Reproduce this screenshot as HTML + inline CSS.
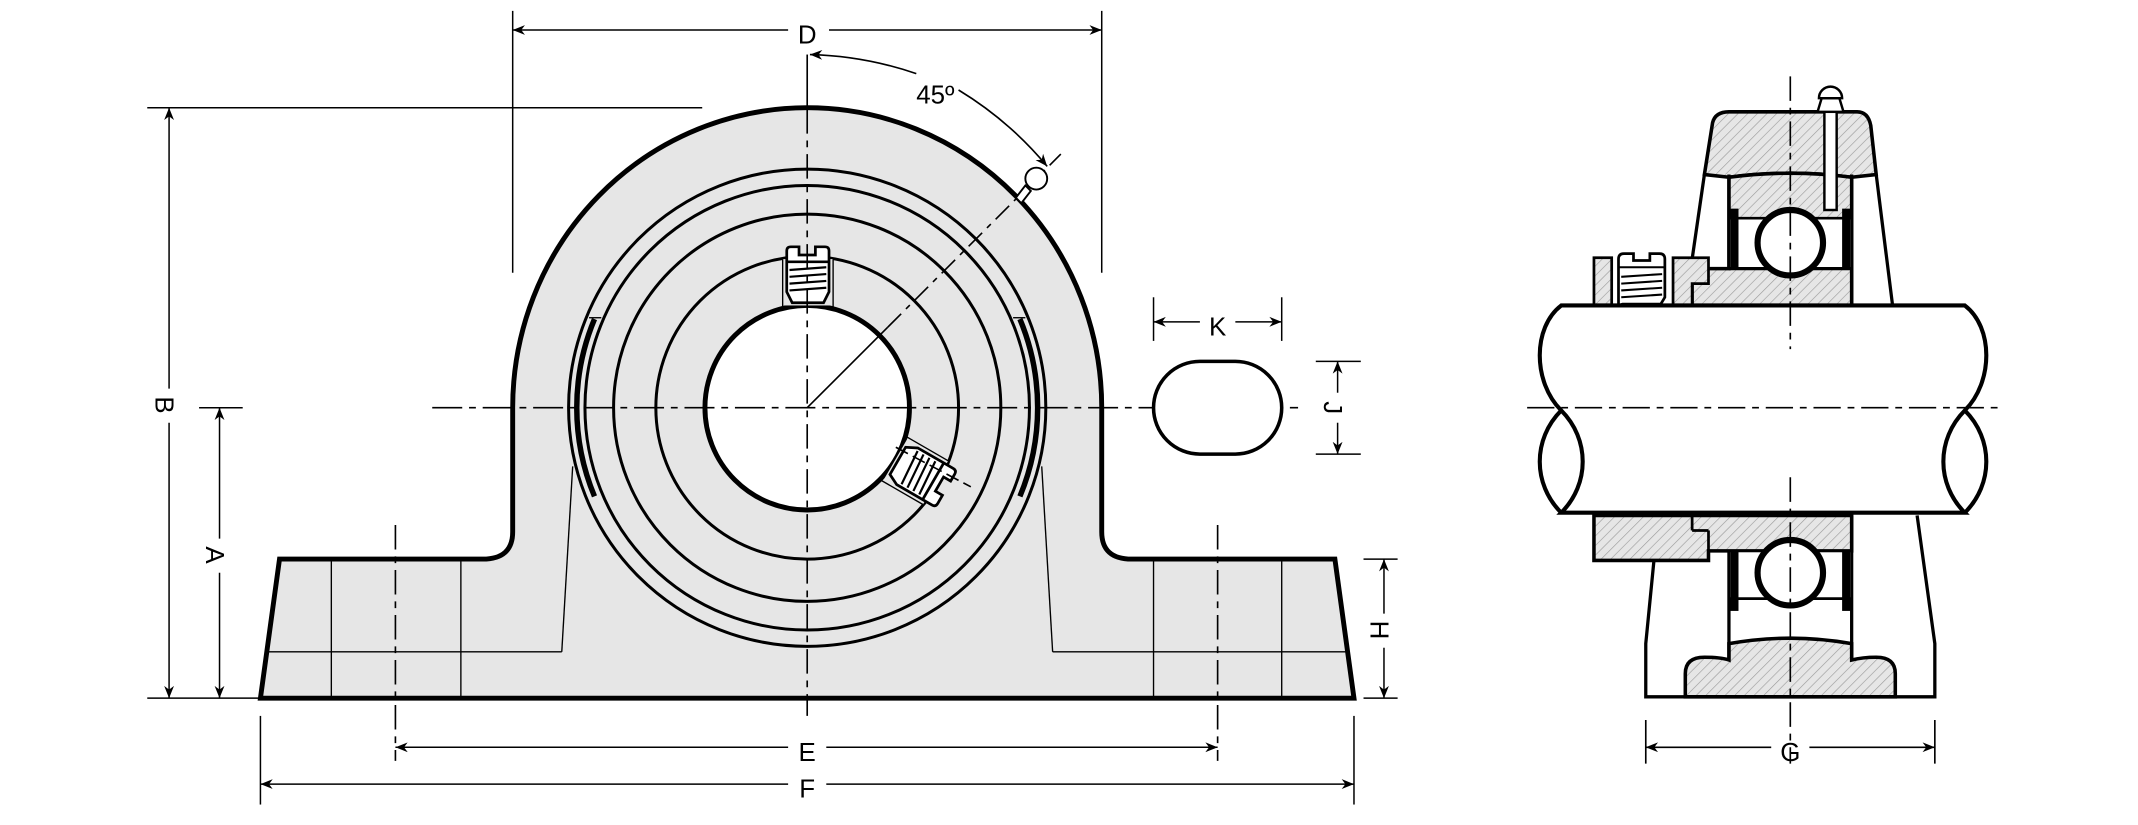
<!DOCTYPE html>
<html><head><meta charset="utf-8"><style>
html,body{margin:0;padding:0;background:#fff}
svg{display:block}
text{font-family:"Liberation Sans Narrow","Liberation Sans",sans-serif;font-size:19px;fill:#000}
</style></head><body>
<svg width="2138" height="825" viewBox="0 0 1568 605" preserveAspectRatio="none" xmlns="http://www.w3.org/2000/svg">
<defs>
<pattern id="h" patternUnits="userSpaceOnUse" width="5" height="5" patternTransform="rotate(45)">
<rect width="5" height="5" fill="#e6e6e6"/><line x1="0" y1="0" x2="0" y2="5" stroke="#9a9a9a" stroke-width="0.9"/>
</pattern>
<marker id="ar" viewBox="0 0 10 10" refX="10" refY="5" markerWidth="9" markerHeight="9" orient="auto-start-reverse" markerUnits="userSpaceOnUse"><path d="M0,1 L10,5 L0,9 L3,5 z" fill="#000"/></marker>
</defs>

<!-- ========== LEFT VIEW ========== -->
<path d="M376,384 L376,299 A216,220 0 0 1 808,299 L808,390 Q808,410 830,410 L979,410 L993,512 L191,512 L205,410 L354,410 Q376,410 376,390 Z" fill="#e6e6e6" stroke="#000" stroke-width="3.6" stroke-linejoin="miter"/>
<g stroke="#000" stroke-width="1" fill="none">
<line x1="243" y1="410" x2="243" y2="512"/><line x1="338" y1="410" x2="338" y2="512"/>
<line x1="846" y1="410" x2="846" y2="512"/><line x1="940" y1="410" x2="940" y2="512"/>
<line x1="196" y1="478" x2="412" y2="478"/><line x1="772" y1="478" x2="989" y2="478"/>
<line x1="412" y1="478" x2="420" y2="342"/><line x1="772" y1="478" x2="764" y2="342"/>
</g>
<g stroke="#000" stroke-width="2.2" fill="none">
<circle cx="592" cy="299" r="175"/>
<circle cx="592" cy="299" r="163"/>
<circle cx="592" cy="299" r="142"/>
<circle cx="592" cy="299" r="111"/>
</g>
<!-- snap ring segments -->
<path d="M436,234 A169,169 0 0 0 436,364" stroke="#000" stroke-width="4" fill="none"/>
<path d="M748,234 A169,169 0 0 1 748,364" stroke="#000" stroke-width="4" fill="none"/>
<path d="M441,233 L432,233" stroke="#000" stroke-width="1"/>
<path d="M743,233 L752,233" stroke="#000" stroke-width="1"/>
<!-- bore -->
<circle cx="592" cy="299" r="75" fill="#fff" stroke="#000" stroke-width="3.6"/>
<!-- top set screw -->
<g id="scr">
<rect x="574" y="190" width="37" height="34" fill="#e6e6e6" stroke="none"/>
<line x1="574" y1="190" x2="574" y2="225" stroke="#000" stroke-width="1"/>
<line x1="611" y1="190" x2="611" y2="225" stroke="#000" stroke-width="1"/>
<path d="M577,192 L577,184 Q577,181 580,181 L586,181 L586,187 L598,187 L598,181 L605,181 Q608,181 608,184 L608,214 L604,222 L581,222 L577,214 Z" fill="#fff" stroke="#000" stroke-width="2"/>
<line x1="577" y1="192" x2="608" y2="192" stroke="#000" stroke-width="2"/>
<g stroke="#000" stroke-width="1.6"><line x1="579" y1="198" x2="606" y2="196"/><line x1="579" y1="203" x2="606" y2="201"/><line x1="579" y1="208" x2="606" y2="206"/><line x1="579" y1="213" x2="606" y2="211"/></g>
</g>
<use href="#scr" transform="rotate(120 592 299)"/>
<!-- centre lines -->
<g stroke="#000" stroke-width="1.2" fill="none">
<line x1="317" y1="299" x2="952" y2="299" stroke-dasharray="22,5,5,5"/>
<line x1="592" y1="80" x2="592" y2="525" stroke-dasharray="18,5,5,5"/>
<line x1="592" y1="40" x2="592" y2="80"/>
<line x1="290" y1="385" x2="290" y2="558" stroke-dasharray="18,5,5,5"/>
<line x1="893" y1="385" x2="893" y2="558" stroke-dasharray="18,5,5,5"/>
<line x1="592" y1="299" x2="651" y2="240"/>
<line x1="651" y1="240" x2="778" y2="113" stroke-dasharray="14,5,4,5"/>
<line x1="657" y1="328" x2="712" y2="357" stroke-dasharray="10,4"/>
</g>
<!-- grease nipple -->
<g stroke="#000" stroke-width="1.4" fill="#fff">
<path d="M745,145 L752,136 L756,140 L749,149 Z"/>
<circle cx="760" cy="131" r="8"/>
</g>
<!-- 45 arc -->
<path d="M594,40 A260,260 0 0 1 672,54" stroke="#000" stroke-width="1.2" fill="none" marker-start="url(#ar)"/>
<path d="M703,66 A260,260 0 0 1 768,122" stroke="#000" stroke-width="1.2" fill="none" marker-end="url(#ar)"/>
<text x="686" y="76" text-anchor="middle">45º</text>
<!-- D -->
<g stroke="#000" stroke-width="1.1">
<line x1="376" y1="8" x2="376" y2="200"/><line x1="808" y1="8" x2="808" y2="200"/>
<line x1="376" y1="22" x2="578" y2="22" marker-start="url(#ar)"/>
<line x1="608" y1="22" x2="808" y2="22" marker-end="url(#ar)"/>
<!-- B -->
<line x1="108" y1="79" x2="515" y2="79"/>
<line x1="124" y1="79" x2="124" y2="285" marker-start="url(#ar)"/>
<line x1="124" y1="310" x2="124" y2="512" marker-end="url(#ar)"/>
<line x1="108" y1="512" x2="190" y2="512"/>
<!-- A -->
<line x1="146" y1="299" x2="178" y2="299"/>
<line x1="161" y1="299" x2="161" y2="395" marker-start="url(#ar)"/>
<line x1="161" y1="420" x2="161" y2="512" marker-end="url(#ar)"/>
<!-- H -->
<line x1="1000" y1="410" x2="1025" y2="410"/>
<line x1="1000" y1="512" x2="1025" y2="512"/>
<line x1="1015" y1="410" x2="1015" y2="450" marker-start="url(#ar)"/>
<line x1="1015" y1="475" x2="1015" y2="512" marker-end="url(#ar)"/>
<!-- E F -->
<line x1="191" y1="525" x2="191" y2="590"/><line x1="993" y1="525" x2="993" y2="590"/>
<line x1="290" y1="548" x2="578" y2="548" marker-start="url(#ar)"/>
<line x1="606" y1="548" x2="893" y2="548" marker-end="url(#ar)"/>
<line x1="191" y1="575" x2="578" y2="575" marker-start="url(#ar)"/>
<line x1="606" y1="575" x2="993" y2="575" marker-end="url(#ar)"/>
<!-- K -->
<line x1="846" y1="218" x2="846" y2="250"/><line x1="940" y1="218" x2="940" y2="250"/>
<line x1="846" y1="236" x2="880" y2="236" marker-start="url(#ar)"/>
<line x1="906" y1="236" x2="940" y2="236" marker-end="url(#ar)"/>
<!-- J -->
<line x1="965" y1="265" x2="998" y2="265"/><line x1="965" y1="333" x2="998" y2="333"/>
<line x1="981" y1="265" x2="981" y2="288" marker-start="url(#ar)"/>
<line x1="981" y1="310" x2="981" y2="333" marker-end="url(#ar)"/>
</g>
<rect x="846" y="265" width="94" height="68" rx="34" ry="34" fill="#fff" stroke="#000" stroke-width="2.6"/>
<text x="592" y="32" text-anchor="middle">D</text>
<text x="592" y="558" text-anchor="middle">E</text>
<text x="592" y="585" text-anchor="middle">F</text>
<text x="893" y="246" text-anchor="middle">K</text>
<text transform="translate(114,297) rotate(90)" text-anchor="middle">B</text>
<text transform="translate(151,407) rotate(90)" text-anchor="middle">A</text>
<text transform="translate(1005,462) rotate(90)" text-anchor="middle">H</text>
<text transform="translate(971,299) rotate(90)" text-anchor="middle">J</text>

<!-- ========== RIGHT VIEW ========== -->
<!-- housing upper cap -->
<path d="M1250,128 L1256,90 Q1258,82 1268,82 L1362,82 Q1370,82 1372,92 L1376,128 L1358,130 Q1313,124 1268,130 Z" fill="url(#h)" stroke="#000" stroke-width="2.6"/>
<path d="M1268,130 Q1313,124 1358,130 L1358,224 L1241,224 L1241,197 L1268,197 Z" fill="url(#h)" stroke="#000" stroke-width="2.6"/>
<line x1="1250" y1="128" x2="1241" y2="190" stroke="#000" stroke-width="2.4"/>
<line x1="1376" y1="128" x2="1388" y2="224" stroke="#000" stroke-width="2.4"/>
<line x1="1268" y1="128" x2="1268" y2="197" stroke="#000" stroke-width="2.4"/>
<line x1="1358" y1="128" x2="1358" y2="224" stroke="#000" stroke-width="2.4"/>
<rect x="1269" y="160" width="88" height="37" fill="#fff"/>
<line x1="1268" y1="160" x2="1358" y2="160" stroke="#000" stroke-width="2"/>
<line x1="1268" y1="197" x2="1358" y2="197" stroke="#000" stroke-width="2.4"/>
<rect x="1269" y="153" width="6" height="44" fill="#000"/>
<rect x="1351" y="153" width="6" height="44" fill="#000"/>
<!-- grease channel & nipple -->
<rect x="1338" y="82" width="9" height="72" fill="#fff" stroke="#000" stroke-width="1.8"/>
<path d="M1333,82 L1336,72 L1349,72 L1352,82 Z" fill="#fff" stroke="#000" stroke-width="1.8"/>
<path d="M1334,72 A8.5,8.5 0 0 1 1351,72 Z" fill="#fff" stroke="#000" stroke-width="1.8"/>
<circle cx="1313" cy="178" r="24" fill="#fff" stroke="#000" stroke-width="4.5"/>
<!-- collar upper -->
<rect x="1169" y="189" width="13" height="35" fill="url(#h)" stroke="#000" stroke-width="2"/>
<path d="M1227,224 L1227,189 L1253,189 L1253,208 L1241,208 L1241,224 Z" fill="url(#h)" stroke="#000" stroke-width="2"/>
<path d="M1187,224 L1187,190 Q1187,186 1191,186 L1198,186 L1198,191 L1210,191 L1210,186 L1217,186 Q1221,186 1221,190 L1221,218 L1218,223 L1190,223 Z" fill="#fff" stroke="#000" stroke-width="2"/>
<g stroke="#000" stroke-width="1.5"><line x1="1189" y1="203" x2="1219" y2="201"/><line x1="1189" y1="208" x2="1219" y2="206"/><line x1="1189" y1="213" x2="1219" y2="211"/><line x1="1189" y1="218" x2="1219" y2="216"/><line x1="1187" y1="196" x2="1221" y2="196"/></g>
<!-- lower parts -->
<path d="M1213,411 L1207,472 L1207,511 L1419,511 L1419,472 L1406,378" fill="none" stroke="#000" stroke-width="2.4"/>
<path d="M1236,511 L1236,494 Q1236,482 1250,482 Q1262,482 1268,484 L1268,472 Q1313,464 1358,472 L1358,484 Q1366,482 1376,482 Q1390,482 1390,494 L1390,511 Z" fill="url(#h)" stroke="#000" stroke-width="2.6"/>
<line x1="1268" y1="404" x2="1268" y2="484" stroke="#000" stroke-width="2.4"/>
<line x1="1358" y1="378" x2="1358" y2="484" stroke="#000" stroke-width="2.4"/>
<path d="M1169,378 L1358,378 L1358,404 L1253,404 L1253,411 L1169,411 Z" fill="url(#h)" stroke="#000" stroke-width="2.6"/>
<line x1="1241" y1="378" x2="1241" y2="389" stroke="#000" stroke-width="2"/>
<line x1="1241" y1="389" x2="1253" y2="389" stroke="#000" stroke-width="2"/>
<line x1="1253" y1="389" x2="1253" y2="404" stroke="#000" stroke-width="2"/>
<rect x="1269" y="405" width="88" height="34" fill="#fff"/>
<line x1="1268" y1="439" x2="1358" y2="439" stroke="#000" stroke-width="2"/>
<rect x="1269" y="404" width="6" height="44" fill="#000"/>
<rect x="1351" y="404" width="6" height="44" fill="#000"/>
<circle cx="1313" cy="420" r="24" fill="#fff" stroke="#000" stroke-width="4.5"/>
<!-- shaft -->
<path d="M1145,224 L1441,224 C1462,240 1462,280 1441,301 C1420,322 1420,355 1441,376 L1145,376 C1166,355 1166,322 1145,301 C1124,280 1124,240 1145,224 Z" fill="#fff" stroke="#000" stroke-width="3"/>
<path d="M1145,301 C1124,322 1124,355 1145,376" fill="none" stroke="#000" stroke-width="3"/>
<path d="M1441,301 C1462,322 1462,355 1441,376" fill="none" stroke="#000" stroke-width="3"/>
<g stroke="#000" stroke-width="1.2">
<line x1="1120" y1="299" x2="1470" y2="299" stroke-dasharray="20,5,5,5"/>
<line x1="1313" y1="56" x2="1313" y2="256" stroke-dasharray="18,5,5,5"/>
<line x1="1313" y1="350" x2="1313" y2="560" stroke-dasharray="18,5,5,5"/>
<line x1="1207" y1="528" x2="1207" y2="560"/><line x1="1419" y1="528" x2="1419" y2="560"/>
<line x1="1207" y1="548" x2="1299" y2="548" marker-start="url(#ar)"/>
<line x1="1327" y1="548" x2="1419" y2="548" marker-end="url(#ar)"/>
</g>
<text x="1313" y="558" text-anchor="middle">G</text>
</svg>
</body></html>
